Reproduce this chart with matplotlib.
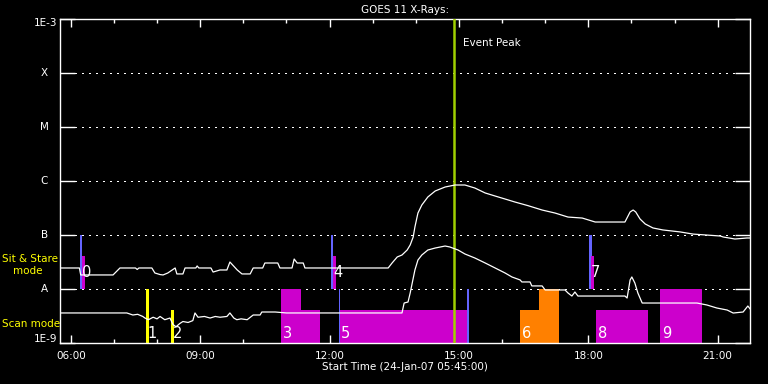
import matplotlib
matplotlib.use("Agg")
import matplotlib.pyplot as plt
from matplotlib.ticker import FixedLocator, NullLocator

# GOES 11, время в часах (UT), поток Вт/м^2
long_t = [5.75, 6.20, 6.23, 6.98, 7.14, 7.50, 7.54, 7.58, 7.88, 7.95, 8.07, 8.14, 8.25,
          8.42, 8.46, 8.60, 8.65, 8.90, 8.93, 8.97, 9.25, 9.30, 9.46, 9.62, 9.69, 9.86,
          9.97, 10.16, 10.23, 10.45, 10.50, 10.80, 10.85, 11.13, 11.18, 11.25, 11.39,
          11.43, 13.36, 13.45, 13.57, 13.68, 13.80, 13.87, 13.94, 13.98, 14.05, 14.14,
          14.28, 14.45, 14.68, 14.91, 15.14, 15.37, 15.61, 15.84, 16.07, 16.30, 16.60,
          16.93, 17.23, 17.53, 17.86, 18.16, 18.85, 18.97, 19.04, 19.10, 19.20, 19.32,
          19.50, 19.73, 20.13, 20.43, 21.06, 21.13, 21.40, 21.68, 21.75]
long_flux = [2.45e-8, 2.45e-8, 1.82e-8, 1.82e-8, 2.45e-8, 2.45e-8, 2.3e-8, 2.45e-8, 2.45e-8,
             1.98e-8, 1.85e-8, 1.82e-8, 1.98e-8, 2.45e-8, 1.9e-8, 1.9e-8, 2.45e-8, 2.45e-8,
             2.67e-8, 2.45e-8, 2.45e-8, 2.06e-8, 2.25e-8, 2.25e-8, 3.16e-8, 2.25e-8, 1.9e-8,
             1.9e-8, 2.45e-8, 2.45e-8, 3.03e-8, 3.03e-8, 2.45e-8, 2.45e-8, 3.59e-8, 3.03e-8,
             3.03e-8, 2.45e-8, 2.45e-8, 3.03e-8, 3.92e-8, 4.26e-8, 5.27e-8, 6.53e-8, 9.18e-8,
             1.41e-7, 2.55e-7, 3.59e-7, 5.06e-7, 6.53e-7, 7.74e-7, 8.43e-7, 8.43e-7, 7.41e-7,
             6.0e-7, 5.27e-7, 4.64e-7, 4.08e-7, 3.5e-7, 2.9e-7, 2.55e-7, 2.15e-7, 2.06e-7,
             1.74e-7, 1.74e-7, 2.67e-7, 2.9e-7, 2.67e-7, 1.98e-7, 1.6e-7, 1.35e-7, 1.24e-7,
             1.14e-7, 1.04e-7, 9.58e-8, 9.18e-8, 8.43e-8, 8.8e-8, 8.8e-8]

short_t = [5.75, 7.30, 7.44, 7.55, 7.67, 7.72, 7.80, 7.91, 8.00, 8.07, 8.18, 8.30, 8.37,
           8.44, 8.53, 8.60, 8.72, 8.83, 8.88, 8.95, 9.10, 9.23, 9.35, 9.46, 9.62, 9.69,
           9.78, 9.85, 9.95, 10.09, 10.23, 10.39, 10.43, 10.74, 11.00, 13.68, 13.73, 13.82,
           13.87, 13.98, 14.05, 14.14, 14.28, 14.45, 14.68, 14.79, 14.98, 15.14, 15.37,
           15.61, 15.84, 16.07, 16.23, 16.42, 16.46, 16.65, 16.69, 16.93, 17.00, 17.46,
           17.53, 17.62, 17.69, 17.76, 18.85, 18.90, 18.97, 19.01, 19.08, 19.15, 19.25,
           20.52, 20.75, 20.98, 21.22, 21.36, 21.59, 21.70, 21.75]
short_flux = [3.6e-9, 3.6e-9, 3.3e-9, 3.4e-9, 3.1e-9, 2.9e-9, 2.7e-9, 3.0e-9, 2.8e-9, 3.1e-9,
              2.7e-9, 2.9e-9, 2.2e-9, 2.0e-9, 2.3e-9, 2.5e-9, 2.4e-9, 2.6e-9, 3.6e-9, 3.0e-9,
              3.1e-9, 2.9e-9, 3.1e-9, 3.0e-9, 3.1e-9, 3.6e-9, 2.9e-9, 2.7e-9, 2.8e-9, 2.7e-9,
              3.3e-9, 3.3e-9, 3.75e-9, 3.75e-9, 3.6e-9, 3.6e-9, 5.5e-9, 5.74e-9, 8.43e-9,
              2.25e-8, 3.44e-8, 4.26e-8, 5.27e-8, 5.74e-8, 6.25e-8, 6.0e-8, 5.27e-8, 4.45e-8,
              3.75e-8, 3.03e-8, 2.45e-8, 1.98e-8, 1.67e-8, 1.47e-8, 1.35e-8, 1.35e-8, 1.14e-8,
              1.14e-8, 9.6e-9, 9.6e-9, 8.43e-9, 7.41e-9, 8.8e-9, 7.41e-9, 7.41e-9, 6.81e-9,
              1.47e-8, 1.67e-8, 1.29e-8, 8.43e-9, 5.5e-9, 5.5e-9, 5.06e-9, 4.45e-9, 4.08e-9,
              3.59e-9, 3.75e-9, 4.84e-9, 4.3e-9]

# Sit & Stare наблюдения
stare_num = ["0", "4", "7"]
stare_start = [6.21, 12.03, 18.02]

# Scan наблюдения (сегменты)
scan_start = [7.74, 8.32, 10.87, 11.34, 12.22, 16.42, 16.86, 18.18, 19.66]
scan_end = [7.81, 8.39, 11.34, 11.78, 15.19, 16.86, 17.32, 19.38, 20.64]
scan_top = [1e-8, 4.1e-9, 1e-8, 4.1e-9, 4.1e-9, 4.1e-9, 1e-8, 4.1e-9, 1e-8]
scan_color = ["#ffff00", "#ffff00", "#cc00cc", "#cc00cc", "#cc00cc",
              "#ff8000", "#ff8000", "#cc00cc", "#cc00cc"]
scan_num = ["1", "2", "3", "", "5", "6", "", "8", "9"]
scan_marks = [12.22, 15.19]
scan_mark_w = [0.025, 0.05]

event_peak = 14.89

level_vals = [1e-9, 1e-8, 1e-7, 1e-6, 1e-5, 1e-4, 1e-3]
level_names = ["1E-9", "A", "B", "C", "M", "X", "1E-3"]
hour_ticks = [6, 9, 12, 15, 18, 21]
hour_labels = ["06:00", "09:00", "12:00", "15:00", "18:00", "21:00"]

W, H = 768, 384


def fx(x):
    return x / W


def fy(y):
    return 1 - y / H


fig = plt.figure(figsize=(7.68, 3.84), dpi=100, facecolor="black")
ax = fig.add_axes([fx(60), fy(343), fx(690), 324 / H], facecolor="black")
ax.set_yscale("log")
ax.set_xlim(5.75, 21.75)
ax.set_ylim(1e-9, 1e-3)

# пунктирные уровни классов
for lv in level_vals[1:-1]:
    ax.axhline(lv, xmin=15 / 690, color="white", lw=1.0, ls=(0, (0.75, 3.75)),
               antialiased=False, zorder=1)

# Sit & Stare
for n, t0 in zip(stare_num, stare_start):
    ax.bar(t0, 9e-8, width=0.055, bottom=1e-8, align="edge", color="#6464ff", lw=0, zorder=2)
    ax.bar(t0 + 0.045, 3.1e-8, width=0.07, bottom=1e-8, align="edge", color="#cc00cc", lw=0, zorder=2)
    ax.annotate(n, (t0, 1.67e-8), xytext=(1.5, 0), textcoords="offset points",
                color="white", fontsize=10.5, va="baseline", ha="left", zorder=5)

# Scan
for t0, t1, top, c, n in zip(scan_start, scan_end, scan_top, scan_color, scan_num):
    ax.bar(t0, top - 1e-9, width=t1 - t0, bottom=1e-9, align="edge", color=c, lw=0, zorder=2)
    if n:
        ax.annotate(n, (t0, 1.25e-9), xytext=(1.5, 0), textcoords="offset points",
                    color="white", fontsize=10.5, va="baseline", ha="left", zorder=5)
for t0, w in zip(scan_marks, scan_mark_w):
    ax.bar(t0, 9e-9, width=w, bottom=1e-9, align="edge", color="#6464ff", lw=0, zorder=2)

ax.plot(long_t, long_flux, color="white", lw=0.9, zorder=4)
ax.plot(short_t, short_flux, color="white", lw=0.9, zorder=4)

ax.axvline(event_peak, color="#a0d000", lw=1.8, zorder=3)
fig.text(fx(463), fy(43), "Event Peak", color="white", fontsize=7.5, va="center", ha="left")

# оси
for s in ax.spines.values():
    s.set_color("white")
    s.set_linewidth(1.0)
ax.yaxis.set_major_locator(FixedLocator(level_vals))
ax.yaxis.set_minor_locator(NullLocator())
ax.set_yticklabels([])
ax.tick_params(axis="y", which="major", direction="in", length=10.8, width=1.0,
               color="white", left=True, right=True)
ax.xaxis.set_major_locator(FixedLocator(hour_ticks))
ax.xaxis.set_minor_locator(FixedLocator(range(6, 22)))
ax.set_xticklabels(hour_labels)
ax.tick_params(axis="x", which="major", direction="in", length=5.5, width=1.0,
               color="white", labelcolor="white", labelsize=7.5, top=True, pad=6)
ax.tick_params(axis="x", which="minor", direction="in", length=3, width=1.0,
               color="white", top=True)

# подписи уровней
for lv, name in zip(level_vals, level_names):
    if name.startswith("1E"):
        y = 23 if name == "1E-3" else 339
        fig.text(fx(57), fy(y), name, color="white", fontsize=7.5, ha="right", va="center")
    else:
        ax.text(-0.023, lv, name, color="white", fontsize=7.5, ha="center", va="center",
                transform=ax.get_yaxis_transform())

fig.text(fx(2), fy(259), "Sit & Stare", color="#ffff00", fontsize=7.5, ha="left", va="center")
fig.text(fx(13), fy(271), "mode", color="#ffff00", fontsize=7.5, ha="left", va="center")
fig.text(fx(2), fy(324), "Scan mode", color="#ffff00", fontsize=7.5, ha="left", va="center")

fig.text(fx(405), fy(10), "GOES 11 X-Rays:", color="white", fontsize=7.5, ha="center", va="center")
fig.text(fx(405), fy(367), "Start Time (24-Jan-07 05:45:00)", color="white", fontsize=7.5,
         ha="center", va="center")

fig.savefig("out.png", dpi=100, facecolor="black")
